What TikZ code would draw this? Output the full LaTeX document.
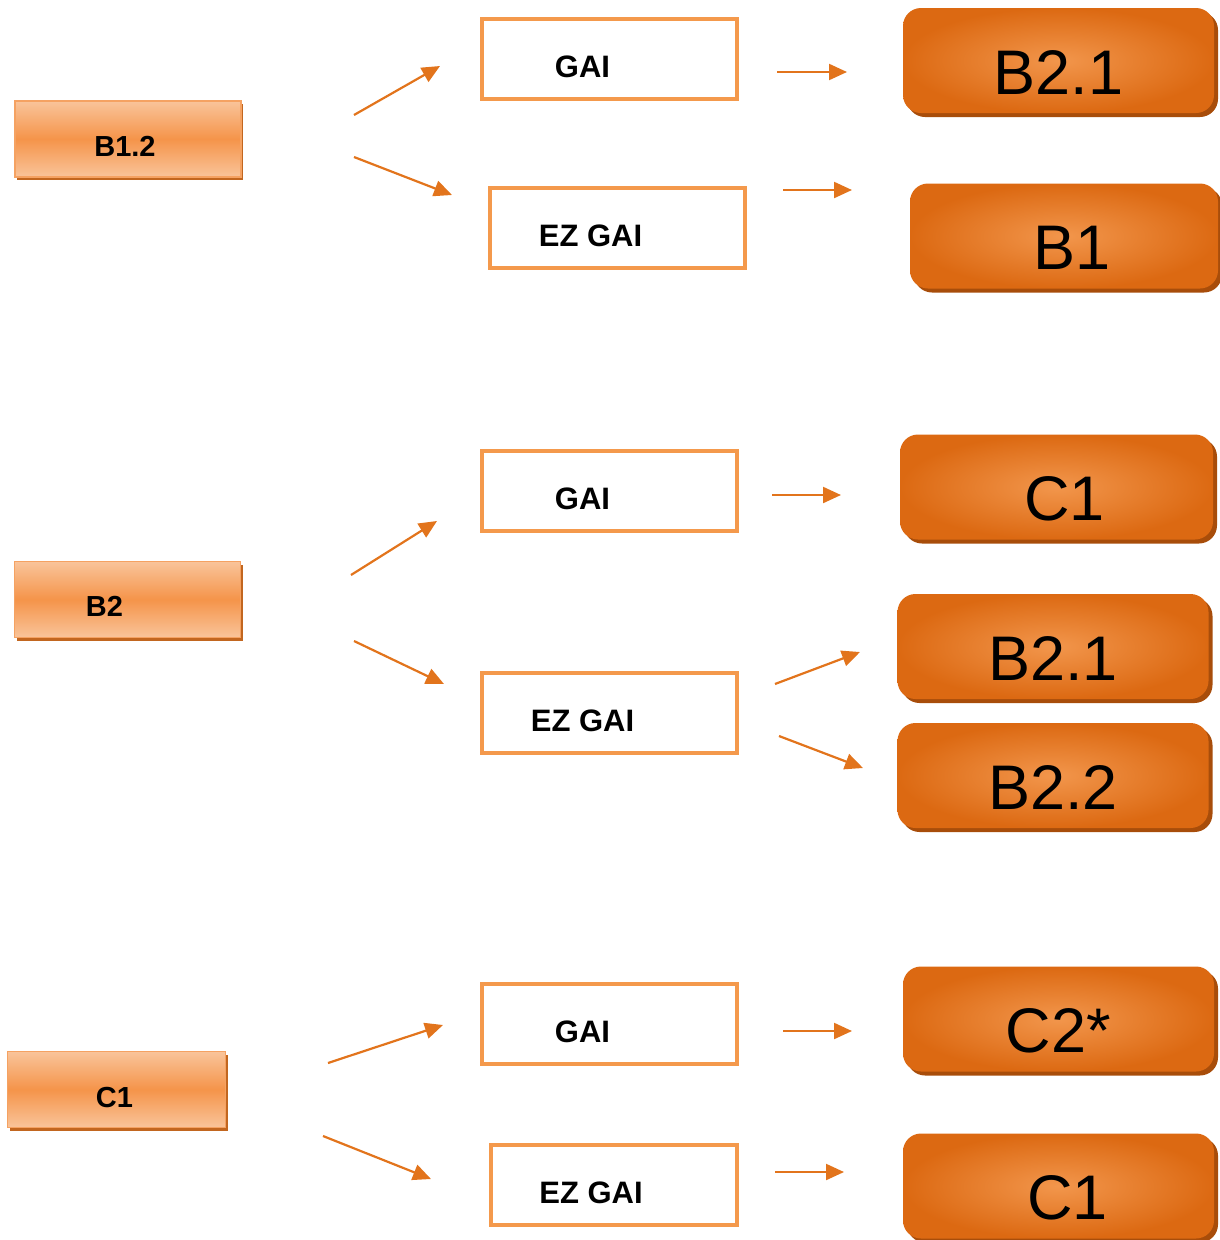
\documentclass[tikz,border=0pt]{standalone}
\usepackage{fontspec}
\setmainfont{Liberation Sans}
\usetikzlibrary{shadows,arrows.meta}
\definecolor{srcline}{HTML}{F5A262}
\definecolor{srclight}{HTML}{F9C49A}
\definecolor{srcmid}{HTML}{F5944A}
\definecolor{srcshadow}{HTML}{C2661F}
\definecolor{gailine}{HTML}{F4994C}
\definecolor{resinner}{HTML}{F2964C}
\definecolor{resouter}{HTML}{DC6912}
\definecolor{resshadow}{HTML}{A84D0A}
\definecolor{linkcol}{HTML}{E2741C}
\begin{document}
\begin{tikzpicture}[x=1pt,y=-1pt,
    srcbox/.style={draw=srcline,line width=1.5pt,top color=srclight,bottom color=srclight,
      middle color=srcmid,minimum width=226pt,minimum height=76pt,
      drop shadow={shadow xshift=2pt,shadow yshift=-3pt,fill=srcshadow,opacity=1}},
    srctext/.style={font=\fontsize{29}{29}\selectfont\bfseries},
    gaibox/.style={draw=gailine,line width=4pt,fill=white,minimum width=255pt,minimum height=80pt},
    gaitext/.style={font=\fontsize{31}{31}\selectfont\bfseries,xshift=-27pt,yshift=-8pt},
    resbox/.style={rounded corners=18pt,inner color=resinner,outer color=resouter,
      minimum width=311pt,minimum height=105pt,text height=67pt,text depth=0pt,
      font=\fontsize{63}{63}\selectfont,
      drop shadow={shadow xshift=4pt,shadow yshift=-4pt,fill=resshadow,opacity=1}},
    link/.style={draw=linkcol,line width=2.2pt,-{Triangle[length=18pt,width=16pt]}}]
  \useasboundingbox (0,0) rectangle (1220,1240);
  % left column
  \node[srcbox,label={[srctext,xshift=-3pt,yshift=-7pt]center:B1.2}] (b12) at (128,139) {};
  \node[srcbox,label={[srctext,xshift=-23pt,yshift=-7pt]center:B2}] (b2) at (127.5,599.5) {};
  \node[srcbox,minimum width=218pt,label={[srctext,xshift=-2pt,yshift=-8pt]center:C1}] (c1) at (116.5,1089.5) {};
  % middle column
  \node[gaibox,label={[gaitext]center:GAI}] (gai1) at (609.5,59) {};
  \node[gaibox,label={[gaitext]center:EZ GAI}] (ez1) at (617.5,228) {};
  \node[gaibox,label={[gaitext]center:GAI}] (gai2) at (609.5,491) {};
  \node[gaibox,label={[gaitext]center:EZ GAI}] (ez2) at (609.5,712.5) {};
  \node[gaibox,label={[gaitext]center:GAI}] (gai3) at (609.5,1023.5) {};
  \node[gaibox,minimum width=246pt,label={[gaitext,xshift=4pt]center:EZ GAI}] (ez3) at (614,1185) {};
  % right column
  \node[resbox] (r1) at (1058.5,60.5) {B2.1};
  \node[resbox,minimum width=308pt] (r2) at (1064,236) {\hspace{16pt}B1};
  \node[resbox,minimum width=313pt] (r3) at (1056.5,487) {\hspace{16pt}C1};
  \node[resbox] (r4) at (1053,646.5) {B2.1};
  \node[resbox] (r5) at (1053,775.5) {B2.2};
  \node[resbox] (r6) at (1058.5,1019) {C2*};
  \node[resbox] (r7) at (1058.5,1186) {\hspace{18pt}C1};
  % arrow ends
  \coordinate (s1) at (354,115);  \coordinate (e1) at (440,66);
  \coordinate (s2) at (354,157);  \coordinate (e2) at (452,195);
  \coordinate (s3) at (777,72);   \coordinate (e3) at (847,72);
  \coordinate (s4) at (783,190);  \coordinate (e4) at (852,190);
  \coordinate (s5) at (351,575);  \coordinate (e5) at (437,521);
  \coordinate (s6) at (354,641);  \coordinate (e6) at (444,684);
  \coordinate (s7) at (772,495);  \coordinate (e7) at (841,495);
  \coordinate (s8) at (775,684);  \coordinate (e8) at (860,652);
  \coordinate (s9) at (779,736);  \coordinate (e9) at (863,768);
  \coordinate (s10) at (328,1063); \coordinate (e10) at (443,1025);
  \coordinate (s11) at (323,1136); \coordinate (e11) at (431,1179);
  \coordinate (s12) at (783,1031); \coordinate (e12) at (852,1031);
  \coordinate (s13) at (775,1172); \coordinate (e13) at (844,1172);
  \foreach \n in {1,...,13}
    \draw[link] (s\n) -- (e\n);
\end{tikzpicture}
\end{document}
